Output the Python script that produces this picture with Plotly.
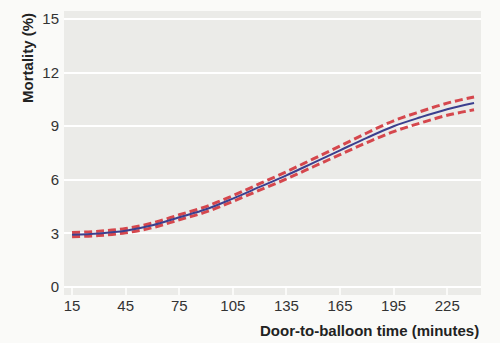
import plotly.graph_objects as go

minutes = [15, 30, 45, 60, 75, 90, 105, 120, 135, 150, 165, 180, 195, 210, 225, 240]
mortality = [2.93, 3.0, 3.15, 3.45, 3.9, 4.35, 4.95, 5.6, 6.25, 6.95, 7.65, 8.35, 9.0, 9.5, 9.95, 10.3]
upper_ci = [3.05, 3.12, 3.27, 3.58, 4.04, 4.5, 5.11, 5.78, 6.45, 7.17, 7.89, 8.62, 9.3, 9.82, 10.29, 10.64]
lower_ci = [2.81, 2.88, 3.03, 3.32, 3.76, 4.2, 4.79, 5.42, 6.05, 6.73, 7.41, 8.08, 8.7, 9.18, 9.61, 9.92]
x_ticks = [15, 45, 75, 105, 135, 165, 195, 225]
y_ticks = [0, 3, 6, 9, 12, 15]

red = "#d5474d"
blue = "#3b3f8e"

fig = go.Figure()
for ci in (upper_ci, lower_ci):
    fig.add_trace(go.Scatter(x=minutes, y=ci, mode="lines", line_shape="spline",
                             line=dict(color=red, width=3, dash="8px,4px"),
                             hoverinfo="skip", showlegend=False))
fig.add_trace(go.Scatter(x=minutes, y=mortality, mode="lines", line_shape="spline",
                         line=dict(color=blue, width=2), showlegend=False))

font = "Liberation Sans, Arial, sans-serif"
fig.update_layout(
    width=500, height=343,
    margin=dict(l=64, r=19, t=11, b=48),
    paper_bgcolor="#fafaf8",
    plot_bgcolor="#ebebe8",
    font=dict(family=font, size=15, color="#222222"),
    xaxis=dict(range=[10.5, 243.9], tickvals=x_ticks, showgrid=False, zeroline=False,
               ticks="inside", ticklen=7, tickwidth=2, tickcolor="#fafaf8",
               showline=False, tickfont=dict(size=15, color="#333333")),
    yaxis=dict(range=[-0.45, 15.45], tickvals=y_ticks, showgrid=True, gridcolor="#ffffff",
               gridwidth=2, zeroline=False, ticks="", showline=False, ticklabelstandoff=4,
               tickfont=dict(size=15, color="#333333")),
    annotations=[
        dict(text="<b>Mortality (%)</b>", xref="paper", yref="paper", x=-0.089, y=1.0,
             xanchor="center", yanchor="top", textangle=-90, showarrow=False,
             font=dict(size=15, color="#222222")),
        dict(text="<b>Door-to-balloon time (minutes)</b>", xref="paper", yref="paper",
             x=1.0, y=-0.088, xanchor="right", yanchor="top", showarrow=False,
             font=dict(size=15, color="#222222")),
    ],
)
fig.write_html("out.html")
